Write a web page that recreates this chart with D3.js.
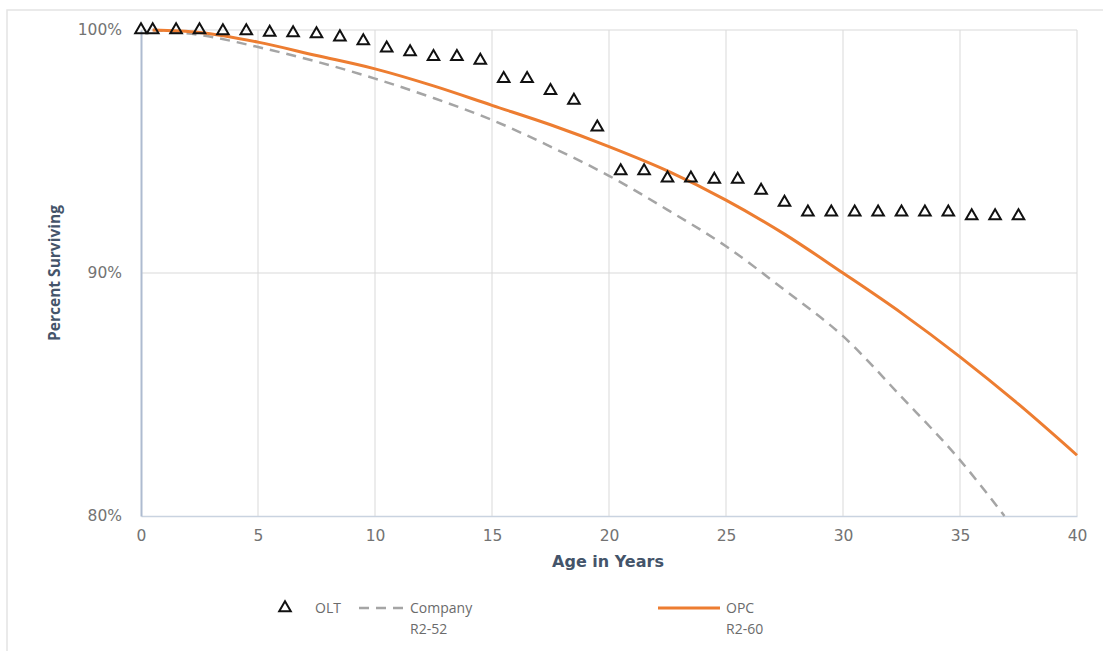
<!DOCTYPE html>
<html>
<head>
<meta charset="utf-8">
<script src="https://cdn.jsdelivr.net/npm/d3@7"></script>
<style>
  body { margin: 0; background: #fff; }
  svg { display: block; }
</style>
</head>
<body>
<div id="chart"></div>
<script>
// OLT observed life table points (age, percent surviving)
const oltAges = [0, 0.5, 1.5, 2.5, 3.5, 4.5, 5.5, 6.5, 7.5, 8.5, 9.5, 10.5, 11.5, 12.5, 13.5, 14.5,
    15.5, 16.5, 17.5, 18.5, 19.5, 20.5, 21.5, 22.5, 23.5, 24.5, 25.5, 26.5, 27.5, 28.5, 29.5,
    30.5, 31.5, 32.5, 33.5, 34.5, 35.5, 36.5, 37.5];
const oltValues = [100, 100, 100, 100, 99.96, 99.96, 99.9, 99.88, 99.84, 99.71, 99.55, 99.25, 99.1, 98.9, 98.9, 98.75,
    98.0, 98.0, 97.5, 97.1, 96.0, 94.2, 94.2, 93.9, 93.9, 93.85, 93.85, 93.4, 92.9, 92.5, 92.5,
    92.5, 92.5, 92.5, 92.5, 92.5, 92.35, 92.35, 92.35];

// Company R2-52 curve
const companyAges = [0.5, 2.5, 5, 7.5, 10, 12.5, 15, 17.5, 20, 22.5, 25, 27.5, 30, 32.5, 35, 36.9];
const companyValues = [100, 99.8, 99.3, 98.7, 98.0, 97.2, 96.3, 95.2, 94.0, 92.6, 91.1, 89.3, 87.4, 84.9, 82.3, 80.0];

// OPC R2-60 curve
const opcAges = [0.5, 2.5, 5, 7.5, 10, 12.5, 15, 17.5, 20, 22.5, 25, 27.5, 30, 32.5, 35, 37.5, 40];
const opcValues = [100, 99.9, 99.5, 98.95, 98.4, 97.7, 96.9, 96.1, 95.2, 94.2, 93.0, 91.6, 90.0, 88.35, 86.55, 84.6, 82.5];

const xTicks = [0, 5, 10, 15, 20, 25, 30, 35, 40];
const yTicks = [80, 90, 100];

const W = 1103, H = 651;
const margin = {top: 30, right: 26, bottom: 135, left: 141};
const width = W - margin.left - margin.right;
const height = H - margin.top - margin.bottom;

const svg = d3.select("#chart").append("svg")
    .attr("width", W)
    .attr("height", H);

// faint outer frame of the chart object
svg.append("path")
    .attr("d", `M7,${H} L7,10 L${W},10`)
    .attr("fill", "none")
    .attr("stroke", "#e4e4e4")
    .attr("stroke-width", 1.5);

const g = svg.append("g").attr("transform", `translate(${margin.left},${margin.top})`);

const x = d3.scaleLinear().domain([0, 40]).range([0, width]);
const y = d3.scaleLinear().domain([80, 100]).range([height, 0]);

// gridlines
g.append("g")
    .selectAll("line.vg")
    .data(xTicks.filter(d => d > 0))
    .join("line")
    .attr("x1", d => x(d)).attr("x2", d => x(d))
    .attr("y1", 0).attr("y2", height)
    .attr("stroke", "#d9d9d9").attr("stroke-width", 1);

g.append("g")
    .selectAll("line.hg")
    .data(yTicks.filter(d => d > 80))
    .join("line")
    .attr("x1", 0).attr("x2", width)
    .attr("y1", d => y(d)).attr("y2", d => y(d))
    .attr("stroke", "#d9d9d9").attr("stroke-width", 1);

// axes
const xAxis = g.append("g")
    .attr("transform", `translate(0,${height})`)
    .call(d3.axisBottom(x).tickValues(xTicks).tickSize(0).tickPadding(14));
xAxis.select(".domain").attr("stroke", "#c9d3e0").attr("stroke-width", 1.5);

const yAxis = g.append("g")
    .call(d3.axisLeft(y).tickValues(yTicks).tickSize(0).tickPadding(19).tickFormat(d => d + "%"));
yAxis.select(".domain").attr("stroke", "#aebbd0").attr("stroke-width", 2);

g.selectAll(".tick text")
    .attr("fill", "#737373")
    .style("font-family", "'DejaVu Sans', sans-serif")
    .style("font-size", "15.5px");

// axis titles
svg.append("text")
    .attr("x", 608).attr("y", 567)
    .attr("text-anchor", "middle")
    .attr("fill", "#44546a")
    .style("font-family", "'DejaVu Sans', sans-serif")
    .style("font-size", "16px")
    .style("font-weight", "bold")
    .text("Age in Years");

svg.append("text")
    .attr("transform", "translate(60,273) rotate(-90)")
    .attr("text-anchor", "middle")
    .attr("fill", "#44546a")
    .style("font-family", "'Liberation Sans Narrow', 'Open Sans', sans-serif")
    .style("font-size", "15.5px")
    .style("font-weight", "bold")
    .text("Percent Surviving");

// curves
const line = d3.line()
    .x(d => x(d[0]))
    .y(d => y(d[1]))
    .curve(d3.curveMonotoneX);

g.append("path")
    .datum(d3.zip(companyAges, companyValues))
    .attr("d", line)
    .attr("fill", "none")
    .attr("stroke", "#a5a5a5")
    .attr("stroke-width", 2.5)
    .attr("stroke-dasharray", "10,7");

g.append("path")
    .datum(d3.zip(opcAges, opcValues))
    .attr("d", line)
    .attr("fill", "none")
    .attr("stroke", "#ed7d31")
    .attr("stroke-width", 3);

// OLT triangles
const tri = d3.symbol().type(d3.symbolTriangle).size(58);
g.append("g")
    .selectAll("path")
    .data(d3.zip(oltAges, oltValues))
    .join("path")
    .attr("d", tri)
    .attr("transform", d => `translate(${x(d[0])},${y(d[1])})`)
    .attr("fill", "none")
    .attr("stroke", "#111")
    .attr("stroke-width", 2);

// legend
const legend = svg.append("g")
    .style("font-family", "'Open Sans', sans-serif")
    .style("font-size", "14px")
    .attr("fill", "#6b6b6b");

legend.append("path")
    .attr("d", tri)
    .attr("transform", "translate(285,608)")
    .attr("fill", "none").attr("stroke", "#111").attr("stroke-width", 2);
legend.append("text").attr("x", 315).attr("y", 613).text("OLT");

legend.append("line")
    .attr("x1", 359).attr("x2", 405).attr("y1", 608).attr("y2", 608)
    .attr("stroke", "#a5a5a5").attr("stroke-width", 2.5).attr("stroke-dasharray", "10,7");
legend.append("text").attr("x", 410).attr("y", 613).text("Company");
legend.append("text").attr("x", 410).attr("y", 634).text("R2-52");

legend.append("line")
    .attr("x1", 658).attr("x2", 720).attr("y1", 608).attr("y2", 608)
    .attr("stroke", "#ed7d31").attr("stroke-width", 3);
legend.append("text").attr("x", 726).attr("y", 613).text("OPC");
legend.append("text").attr("x", 726).attr("y", 634).text("R2-60");
</script>
</body>
</html>
